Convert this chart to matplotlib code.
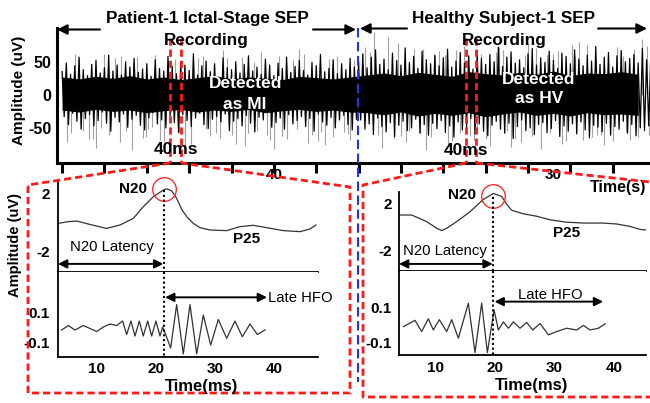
import numpy as np
import matplotlib
matplotlib.use('Agg')
import matplotlib.pyplot as plt

plt.rcParams['font.family'] = ['Liberation Sans', 'DejaVu Sans']

W, H = 650, 403

# ---------------- data: continuous recording (time in s, amplitude in uV) -------------
hair_up = [35,48,31,44,57,38,29,46,52,33,41,60,36,45,30,50,42,55,34,39,
           47,28,53,40,36,58,43,32,49,45,37,62,30,44,51,35,47,27,56,41,
           38,50,33,46,59,36,42,31,54,45,29,48,40,57,34,43,52,37,30,49,
           44,61,35,40,53,32,47,38,55,42,
           50,62,41,57,68,46,54,38,63,52,45,71,49,58,40,66,53,47,60,44,
           56,69,42,51,64,48,59,39,67,55,46,61,50,72,43,57,65,48,53,41,
           62,70,45,56,49,66,52,40,63,58,47,68,54,44,60,51,73,46,57,64,
           42,59,67,50,55,61,48,70,53,63]
hair_dn = [-33,-45,-28,-40,-52,-36,-30,-47,-39,-26,-43,-55,-34,-41,-29,-49,-37,-31,-46,-53,
           -35,-27,-44,-38,-50,-32,-42,-57,-30,-39,-48,-35,-28,-45,-51,-37,-33,-41,-29,-54,
           -40,-36,-47,-31,-43,-56,-34,-38,-27,-49,-42,-35,-52,-30,-44,-39,-33,-48,-36,-55,
           -29,-41,-46,-34,-50,-38,-31,-45,-53,-37,
           -38,-52,-44,-60,-35,-48,-56,-42,-63,-46,-40,-54,-50,-37,-58,-45,-61,-43,-51,-39,
           -57,-47,-64,-41,-53,-49,-36,-59,-44,-55,-62,-46,-40,-52,-58,-43,-66,-48,-38,-54,
           -50,-60,-45,-42,-57,-51,-39,-63,-47,-55,-44,-59,-41,-53,-65,-46,-49,-56,-43,-61,
           -48,-52,-40,-58,-45,-62,-50,-54,-47,-57]
core_up = [27,24,28,25,29,24,27,23,26,29,24,27,25,23,28,26,24,27,
           30,33,29,34,31,28,35,32,30,34,31,36,29,33,32,35,31]
core_dn = [-23,-26,-22,-25,-23,-27,-24,-22,-26,-23,-25,-22,-27,-24,-22,-25,-23,-26,
           -27,-30,-26,-32,-28,-31,-27,-33,-29,-26,-31,-28,-32,-27,-30,-29,-31]
spike_t = [0.6,1.5,2.5,3.2,4.0,5.5,6.3,7.0,8.2,9.5,10.2,11.0,12.0,13.3,14.5,16.0,17.5,18.2,
           19.0,20.5,21.2,22.0,23.5,24.2,25.0,26.5,27.3,28.0,29.5,30.2,31.0,32.5,33.3,34.0,
           1.0,2.0,3.6,4.6,5.0,6.8,7.6,8.8,9.9,10.6,11.5,12.5,13.8,15.2,16.6,17.0,18.6,19.5,
           20.0,21.6,22.6,23.0,24.6,25.6,26.0,27.7,28.6,29.0,30.6,31.5,32.0,33.7,34.5,
           35.8,36.8,37.8,38.5,39.2,40.0,41.5,42.2,43.0,44.5,45.2,46.0,47.5,48.2,49.0,50.5,
           51.2,52.0,53.5,54.2,55.0,56.5,57.2,58.0,59.5,60.2,61.0,62.5,63.2,64.0,65.5,66.2,
           67.0,68.5,69.3,
           36.3,37.3,39.6,40.6,41.0,42.6,43.5,44.0,45.6,46.5,47.0,48.6,49.5,50.0,51.6,52.5,
           53.0,54.6,55.5,56.0,57.6,58.5,59.0,60.6,61.5,62.0,63.6,64.5,65.0,66.6,67.5,68.0,
           69.0]
spike_v = [-72,62,-55,-66,-80,-60,56,58,-84,-65,-52,60,-70,54,-78,55,-62,-58,
           68,-74,57,-58,64,-61,-82,-66,52,70,-60,-70,-76,58,-56,-68,
           -58,55,-66,-50,62,-71,-54,57,-63,-48,-69,53,-57,-74,59,-52,-65,56,
           -60,-77,50,-55,-68,58,-62,-51,61,-73,-56,54,-64,-59,52,
           72,95,-80,88,-66,-62,70,-58,-84,66,60,-70,74,-62,-58,-78,
           64,68,-66,-72,78,-82,60,62,-70,75,80,-64,-60,-76,72,58,
           -68,84,-60,
           65,-60,78,-72,-55,70,-64,58,-75,68,-58,-70,62,-66,73,-54,
           -79,60,-62,71,-57,66,-74,59,-68,76,-61,64,-70,-56,69,-63,
           74]
top_xticks = list(range(0, 70, 5))
top_label_40_t = 25.0
top_label_30_t = 58.0
win1_t = [12.74, 14.04]
win2_t = [47.68, 48.86]

# ---------------- data: averaged SEP (ms, uV) and HFO ----------------
sep1_t = [3.48,5.0,6.58,9.0,11.64,13.89,16.14,17.82,19.51,21.2,21.76,22.61,23.45,24.3,25.14,
          26.26,27.39,29.08,31.89,34.14,36.39,38.64,41.45,44.26,45.95,46.96]
sep1_v = [-0.06,0.05,0.10,-0.15,-0.40,-0.17,0.28,1.07,1.75,2.20,2.29,2.15,1.64,0.89,0.40,
          -0.06,-0.35,-0.51,-0.55,-0.28,-0.19,-0.35,-0.55,-0.62,-0.44,-0.17]
hfo1_t = [4.04,5.17,6.29,7.7,8.83,9.95,11.08,12.2,13.33,14.34,15.01,15.74,16.42,17.15,17.82,
          18.56,19.23,19.96,20.64,21.09,21.59,22.44,23.45,24.57,25.7,26.83,27.95,29.19,30.48,
          31.89,33.29,34.53,35.83,37.06,38.36]
hfo1_v = [-0.02,0.01,-0.02,0.01,-0.01,-0.03,0.0,0.02,0.01,0.04,-0.05,0.04,-0.06,0.04,-0.06,
          0.04,-0.06,0.04,-0.06,0.0,-0.05,-0.14,0.15,-0.18,0.15,-0.18,0.08,-0.12,0.05,
          -0.075,0.04,-0.065,0.02,-0.05,-0.02]
sep2_t = [3.92,6.0,8.52,10.2,11.05,11.9,13.57,15.8,18.05,19.73,21.14,21.98,22.8,24.8,27.0,
          29.27,32.07,34.87,38.2,40.5,42.7,44.4,45.4]
sep2_v = [1.0,1.0,0.45,-0.1,-0.3,-0.1,0.45,1.27,2.3,2.8,2.55,1.9,1.4,1.1,0.9,0.6,0.4,0.33,
          0.33,0.25,0.05,-0.2,-0.25]
hfo2_t = [4.6,6.56,7.68,8.8,9.64,10.65,11.89,12.73,13.85,15.53,16.65,17.77,18.73,19.85,20.58,
          21.42,22.26,23.1,24.22,25.34,26.35,27.59,28.99,30.39,32.07,33.75,34.88,36.0,37.4,38.52]
hfo2_v = [-0.007,0.029,-0.035,0.038,-0.026,0.033,-0.035,0.033,-0.073,0.127,-0.155,0.127,-0.155,
          0.089,-0.026,0.02,-0.016,0.02,-0.016,0.017,-0.026,0.011,-0.054,-0.035,-0.016,-0.026,
          0.0,-0.026,-0.016,0.009]
n20_1 = (21.3, 2.25)
n20_2 = (19.73, 2.55)
late_hfo_end = [38.7, 38.2]
lower_xticks = [10, 20, 30, 40]

RED = '#ff1a1a'
BLUE = '#2233ee'
CURVE = '#333333'

fig = plt.figure(figsize=(W / 100, H / 100), dpi=100)


def rect(x0, y0, x1, y1):
    return [x0 / W, 1 - y1 / H, (x1 - x0) / W, (y1 - y0) / H]


def bold_ticks(ax, size):
    for lab in ax.get_xticklabels() + ax.get_yticklabels():
        lab.set_fontweight('bold')
        lab.set_fontsize(size)


# ---------------- top continuous recording ----------------
ax = fig.add_axes(rect(57, 28, 650, 163))
n = len(hair_up)
t_up = np.linspace(0, 69.5, n)
t_sig = np.empty(2 * n)
sig = np.empty(2 * n)
t_sig[0::2] = t_up
t_sig[1::2] = t_up + 0.25
sig[0::2] = hair_up
sig[1::2] = hair_dn
core_t = np.arange(len(core_up)) * 2.0
ax.vlines(spike_t, 0, spike_v, color='#a0a0a0', lw=0.8, zorder=1)
ax.fill_between(core_t, core_dn, core_up, color='k', lw=0, zorder=2)
ax.plot(t_sig, sig, color='k', lw=0.9, zorder=3)
ax.set_xlim(-0.6, 69.4)
ax.set_ylim(-103, 101)
ax.set_yticks([50, 0, -50])
ax.set_yticklabels(['50', '0', '-50'])
ax.set_xticks(top_xticks)
ax.set_xticklabels([''] * len(top_xticks))
ax.tick_params(axis='x', direction='out', length=7, width=2.2)
ax.tick_params(axis='y', length=0, pad=4)
bold_ticks(ax, 11.5)
for s in ['top', 'right']:
    ax.spines[s].set_visible(False)
for s in ['left', 'bottom']:
    ax.spines[s].set_linewidth(2.2)
for tt in win1_t + win2_t:
    ax.plot([tt, tt], [86, -103], color=RED, lw=2.0, ls=(0, (2.6, 1.4)), zorder=5)
ax.text(top_label_40_t, -110, '40', ha='center', va='top', fontsize=11, fontweight='bold',
        clip_on=False)
ax.text(top_label_30_t, -110, '30', ha='center', va='top', fontsize=11, fontweight='bold',
        clip_on=False)
ax.text(np.mean(win1_t), -90, '40ms', ha='center', va='baseline', fontsize=12.5,
        fontweight='bold', zorder=6)
ax.text(np.mean(win2_t) - 0.6, -91, '40ms', ha='center', va='baseline', fontsize=12.5,
        fontweight='bold', zorder=6)
ax.text(21.6, 10, 'Detected', color='white', ha='center', va='baseline', fontsize=12.5,
        fontweight='bold', zorder=6)
ax.text(21.6, -22, 'as MI', color='white', ha='center', va='baseline', fontsize=12.5,
        fontweight='bold', zorder=6)
ax.text(56.3, 17, 'Detected', color='white', ha='center', va='baseline', fontsize=12.5,
        fontweight='bold', zorder=6)
ax.text(56.3, -13, 'as HV', color='white', ha='center', va='baseline', fontsize=12.5,
        fontweight='bold', zorder=6)


def style_lower(a):
    for s in ['top', 'right']:
        a.spines[s].set_visible(False)
    for s in ['left', 'bottom']:
        a.spines[s].set_linewidth(1.3)
    a.tick_params(length=0)


def sep_panel(x0, x1, y_top, y_mid, y_bot, xlim, ylim_s, ylim_h, st, sv, ht, hv, n20,
              lat_y, hfo_y, hfo_end, padx_s, padx_h, pady):
    a1 = fig.add_axes(rect(x0, y_top, x1, y_mid))
    a2 = fig.add_axes(rect(x0, y_mid, x1, y_bot))
    a1.plot(st, sv, color=CURVE, lw=0.9)
    a2.plot(ht, hv, color=CURVE, lw=0.9)
    for a in (a1, a2):
        a.set_xlim(*xlim)
        a.set_xticks(lower_xticks)
        style_lower(a)
    a1.set_ylim(*ylim_s)
    a2.set_ylim(*ylim_h)
    a1.set_yticks([2, -2])
    a1.set_yticklabels(['2', '-2'])
    a2.set_yticks([0.1, -0.1])
    a2.set_yticklabels(['0.1', '-0.1'])
    a1.tick_params(axis='x', pad=padx_s)
    a2.tick_params(axis='x', pad=padx_h)
    a1.tick_params(axis='y', pad=pady)
    a2.tick_params(axis='y', pad=pady)
    bold_ticks(a1, 11)
    bold_ticks(a2, 11)
    a1.plot([n20[0]], [n20[1]], 'o', ms=17, mfc='none', mec=RED, mew=0.9, clip_on=False)
    a1.plot([n20[0], n20[0]], [n20[1] - 0.05, ylim_s[0]], color='k', lw=1.5,
            ls=(0, (1, 1.3)), clip_on=False)
    a2.plot([n20[0], n20[0]], [ylim_h[1], ylim_h[0]], color='k', lw=1.5,
            ls=(0, (1, 1.3)), clip_on=False)
    a1.annotate('', xy=(xlim[0], lat_y), xytext=(n20[0] - 0.1, lat_y),
                arrowprops=dict(arrowstyle='<|-|>', color='k', lw=1.4, mutation_scale=13,
                                shrinkA=0, shrinkB=0), annotation_clip=False)
    a2.annotate('', xy=(n20[0] + 0.2, hfo_y), xytext=(hfo_end, hfo_y),
                arrowprops=dict(arrowstyle='<|-|>', color='k', lw=1.4, mutation_scale=13,
                                shrinkA=0, shrinkB=0), annotation_clip=False)
    return a1, a2


a1, a2 = sep_panel(58, 318, 182, 272, 357, (3.43, 47.3), (-3.36, 2.75), (-0.2, 0.367),
                   sep1_t, sep1_v, hfo1_t, hfo1_v, n20_1, -2.81, 0.198, late_hfo_end[0],
                   1.5, 3.5, 6)
a1.text(16.1, 1.98, 'N20', ha='center', va='baseline', fontsize=11, fontweight='bold')
a1.text(35.3, -1.39, 'P25', ha='center', va='baseline', fontsize=11, fontweight='bold')
a1.text(12.5, -1.91, 'N20 Latency', ha='center', va='baseline', fontsize=10.7)
a2.text(38.8, 0.168, 'Late HFO', ha='left', va='baseline', fontsize=10.7)

b1, b2 = sep_panel(399, 646, 192, 271, 355, (3.87, 45.4), (-3.67, 2.92), (-0.169, 0.311),
                   sep2_t, sep2_v, hfo2_t, hfo2_v, n20_2, -3.08, 0.136, late_hfo_end[1],
                   2.5, 4.5, 5)
b1.text(14.47, 2.33, 'N20', ha='center', va='baseline', fontsize=11, fontweight='bold')
b1.text(32.0, -0.81, 'P25', ha='center', va='baseline', fontsize=11, fontweight='bold')
b1.text(11.6, -2.33, 'N20 Latency', ha='center', va='baseline', fontsize=10.7)
b2.text(29.3, 0.151, 'Late HFO', ha='center', va='baseline', fontsize=10.7)

# ---------------- overlay (layout annotations) ----------------
ov = fig.add_axes([0, 0, 1, 1], zorder=10)
ov.set_xlim(0, W)
ov.set_ylim(H, 0)
ov.axis('off')
ov.patch.set_alpha(0)

ap = dict(arrowstyle='-|>', color='k', lw=1.5, mutation_scale=15, shrinkA=0, shrinkB=0)
ov.annotate('', xy=(57, 29.5), xytext=(100, 29.5), arrowprops=ap)
ov.annotate('', xy=(356, 29.5), xytext=(313, 29.5), arrowprops=ap)
ov.annotate('', xy=(360, 28.5), xytext=(407, 28.5), arrowprops=ap)
ov.annotate('', xy=(647, 28.5), xytext=(598, 28.5), arrowprops=ap)
ov.text(207, 23.5, 'Patient-1 Ictal-Stage SEP', ha='center', va='baseline', fontsize=12.3,
        fontweight='bold')
ov.text(206, 45, 'Recording', ha='center', va='baseline', fontsize=12.3, fontweight='bold')
ov.text(503, 23.5, 'Healthy Subject-1 SEP', ha='center', va='baseline', fontsize=12.3,
        fontweight='bold')
ov.text(504, 45, 'Recording', ha='center', va='baseline', fontsize=12.3, fontweight='bold')

ov.plot([358, 358], [28, 382], color=BLUE, lw=1.5, ls=(0, (4.5, 2.2)))

red_ls = (0, (2.6, 1.4))
ov.plot([170, 28, 28, 350, 350, 181], [163, 185, 393, 393, 187, 163], color=RED, lw=2.0,
        ls=red_ls)
ov.plot([466, 363, 363, 650], [163, 185, 397, 397], color=RED, lw=2.0, ls=red_ls)
ov.plot([476, 650], [163, 182], color=RED, lw=2.0, ls=red_ls)

ov.text(618, 192.3, 'Time(s)', ha='center', va='baseline', fontsize=11.5, fontweight='bold',
        zorder=1)
ov.text(202, 391, 'Time(ms)', ha='center', va='baseline', fontsize=12, fontweight='bold')
ov.text(532, 390, 'Time(ms)', ha='center', va='baseline', fontsize=12, fontweight='bold')
ov.text(19, 90, 'Amplitude (uV)', rotation=90, ha='center', va='center', fontsize=11,
        fontweight='bold')
ov.text(15, 245, 'Amplitude (uV)', rotation=90, ha='center', va='center', fontsize=10.5,
        fontweight='bold')

fig.savefig('out.png', dpi=100)
